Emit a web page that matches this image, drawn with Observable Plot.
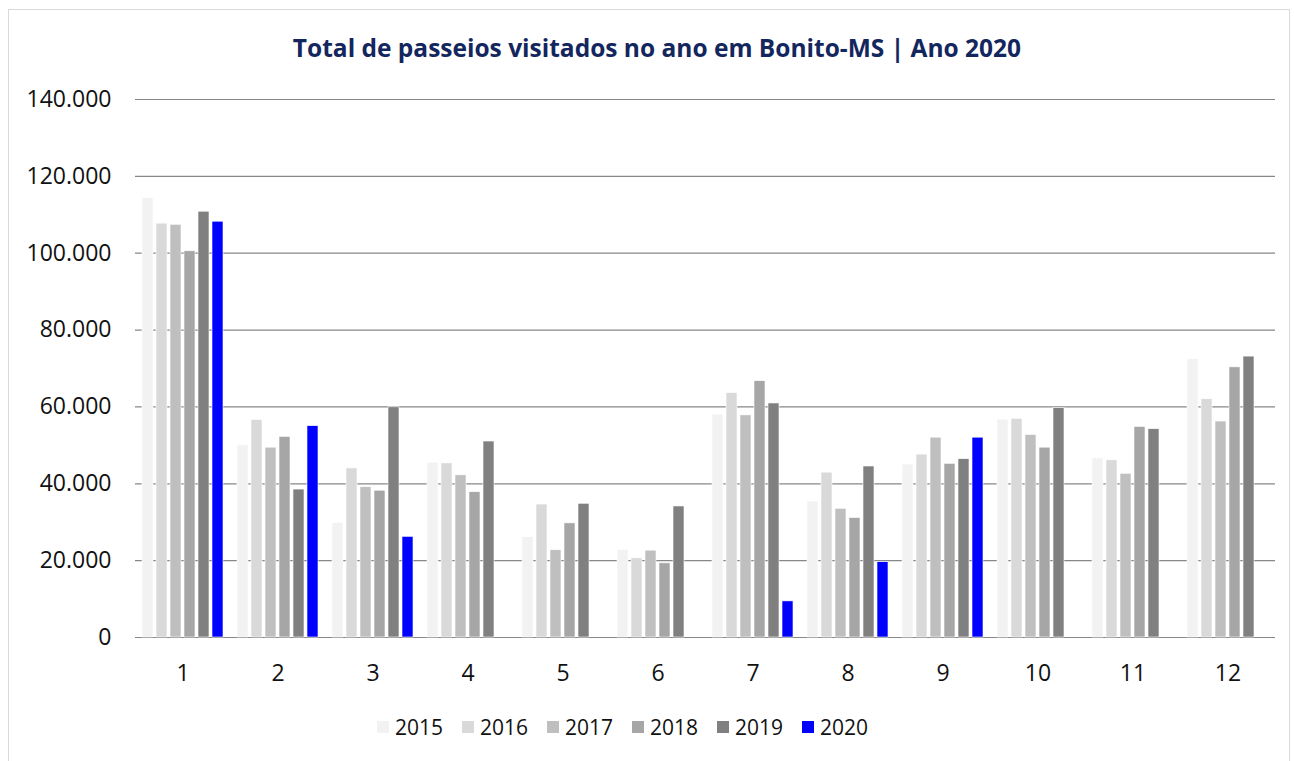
<!DOCTYPE html>
<html>
<head>
<meta charset="utf-8">
<script src="https://cdn.jsdelivr.net/npm/d3@7"></script>
<script src="https://cdn.jsdelivr.net/npm/@observablehq/plot@0.6"></script>
<style>
  html, body { margin: 0; padding: 0; background: #fff; }
  body { width: 1294px; height: 761px; position: relative; overflow: hidden; font-family: "Open Sans", "Liberation Sans", sans-serif; }
  #frame { position: absolute; left: 8px; top: 9px; width: 1282px; height: 800px; border: 1px solid #d9d9d9; box-sizing: border-box; }
  #title { position: absolute; left: 0; top: 32px; width: 1314px; text-align: center; font-weight: 700; font-size: 24.5px; color: #13275e; line-height: 32px; }
  #chart { position: absolute; left: 0; top: 80px; }
  #legend { position: absolute; left: 377px; top: 713px; display: flex; }
  .item { display: inline-flex; align-items: center; width: 85px; font-size: 21px; color: #111; line-height: 28px; }
  .sw { width: 12px; height: 12px; margin-right: 6px; }
</style>
</head>
<body>
<div id="frame"></div>
<div id="title">Total de passeios visitados no ano em Bonito-MS | Ano 2020</div>
<div id="chart"></div>
<div id="legend"></div>
<script>
const months = [1, 2, 3, 4, 5, 6, 7, 8, 9, 10, 11, 12];
const years = ["2015", "2016", "2017", "2018", "2019", "2020"];
const colors = ["#f2f2f2", "#d9d9d9", "#bfbfbf", "#a6a6a6", "#808080", "#0000ff"];
const v2015 = [114300, 50000, 29800, 45500, 26100, 22800, 58000, 35400, 45000, 56700, 46600, 72400];
const v2016 = [107700, 56600, 44000, 45300, 34600, 20600, 63600, 42900, 47600, 56900, 46100, 62000];
const v2017 = [107400, 49400, 39100, 42200, 22700, 22600, 57800, 33500, 52000, 52700, 42600, 56200];
const v2018 = [100500, 52200, 38200, 37800, 29700, 19300, 66700, 31100, 45200, 49400, 54800, 70300];
const v2019 = [110800, 38500, 59900, 51000, 34800, 34100, 60900, 44500, 46400, 59700, 54200, 73100];
const v2020 = [108200, 55000, 26200, null, null, null, 9400, 19600, 52000, null, null, null];
const yTicks = [0, 20000, 40000, 60000, 80000, 100000, 120000, 140000];

const series = [v2015, v2016, v2017, v2018, v2019, v2020];
const data = [];
years.forEach((yr, i) => {
  months.forEach((m, j) => {
    const v = series[i][j];
    if (v != null) data.push({month: m, year: yr, value: v});
  });
});

const fmt = d3.formatLocale({decimal: ",", thousands: ".", grouping: [3], currency: ["", ""]}).format(",d");

const chart = Plot.plot({
  width: 1294,
  height: 607,
  marginTop: 19,
  marginBottom: 50,
  marginLeft: 135,
  marginRight: 19,
  style: {fontFamily: "'Open Sans', 'Liberation Sans', sans-serif", fontSize: "23px", color: "#111", background: "transparent"},
  facet: {data: data, x: "month"},
  fx: {domain: months, padding: 0, axis: "bottom", label: null, tickSize: 0, tickPadding: 27},
  x: {axis: null, domain: years, paddingInner: 0.2, paddingOuter: 0.34},
  y: {domain: [0, 140000], ticks: yTicks, tickFormat: fmt, tickSize: 0, tickPadding: 24, label: null},
  color: {domain: years, range: colors},
  marks: [
    Plot.ruleY(yTicks, {stroke: "#878787", strokeWidth: 1.2}),
    Plot.barY(data, {x: "year", y: "value", fill: "year", stroke: "#ffffff", strokeWidth: 0.6})
  ]
});
document.getElementById("chart").appendChild(chart);

const legend = document.getElementById("legend");
years.forEach((yr, i) => {
  const it = document.createElement("div");
  it.className = "item";
  const sw = document.createElement("span");
  sw.className = "sw";
  sw.style.background = colors[i];
  const tx = document.createElement("span");
  tx.textContent = yr;
  it.appendChild(sw);
  it.appendChild(tx);
  legend.appendChild(it);
});
</script>
</body>
</html>
